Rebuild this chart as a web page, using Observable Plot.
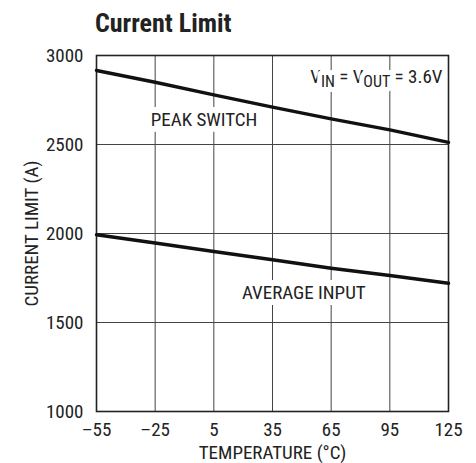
<!DOCTYPE html>
<html>
<head>
<meta charset="utf-8">
<script src="https://cdn.jsdelivr.net/npm/d3@7"></script>
<script src="https://cdn.jsdelivr.net/npm/@observablehq/plot@0.6"></script>
<style>
  html, body { margin: 0; padding: 0; background: #fff; }
  #wrap { position: relative; width: 476px; height: 463px; font-family: "Liberation Sans Narrow", "Roboto Condensed", "DejaVu Sans Condensed", sans-serif; }
  #title { position: absolute; left: 95px; top: 10px; font-size: 26px; font-weight: bold; line-height: 1; color: #222; }
  #chart { position: absolute; left: 0; top: 45px; }
</style>
</head>
<body>
<div id="wrap">
  <div id="title">Current Limit</div>
  <div id="chart"></div>
</div>
<script>
const temperatures = [-55, -25, 5, 35, 65, 95, 125];
const peakSwitch   = [2916, 2850, 2779, 2710, 2644, 2582, 2512];
const averageInput = [1993, 1947, 1899, 1852, 1805, 1764, 1720];
const xTicks = [-55, -25, 5, 35, 65, 95, 125];
const yTicks = [1000, 1500, 2000, 2500, 3000];

const peakData = temperatures.map((t, i) => ({t, v: peakSwitch[i]}));
const avgData = temperatures.map((t, i) => ({t, v: averageInput[i]}));

const font = `"Liberation Sans Narrow", "Roboto Condensed", "DejaVu Sans Condensed", sans-serif`;
const fmtX = d => d < 0 ? "\u2013" + Math.abs(d) : String(d);
const fmtY = d => String(d);

const chart = Plot.plot({
  width: 476,
  height: 418,
  marginTop: 10,
  marginBottom: 52,
  marginLeft: 96,
  marginRight: 28,
  style: {fontFamily: font, fontSize: "19px", color: "#222", background: "#fff"},
  x: {domain: [-55, 125]},
  y: {domain: [1000, 3000]},
  marks: [
    Plot.gridX(xTicks, {stroke: "#444", strokeOpacity: 1, strokeWidth: 1}),
    Plot.gridY(yTicks, {stroke: "#444", strokeOpacity: 1, strokeWidth: 1}),
    Plot.axisX(xTicks, {tickSize: 0, tickPadding: 11, tickFormat: fmtX, label: "TEMPERATURE (°C)", labelAnchor: "center", labelArrow: "none", labelOffset: 47}),
    Plot.axisY(yTicks, {tickSize: 0, tickPadding: 13, tickFormat: fmtY, label: "CURRENT LIMIT (A)", labelAnchor: "center", labelArrow: "none", labelOffset: 72}),
    Plot.text(["PEAK SWITCH"], {x: 0, y: 2638, text: d => d, fontSize: 19, fill: "#222", stroke: "white", strokeWidth: 12}),
    Plot.text(["AVERAGE INPUT"], {x: 51, y: 1669, text: d => d, fontSize: 19, fill: "#222", stroke: "white", strokeWidth: 12}),
    Plot.text(["VIN = VOUT = 3.6V"], {x: 125, y: 2882, text: d => d, textAnchor: "end", dx: -6, fontSize: 19, fill: "#222", stroke: "white", strokeWidth: 10}),
    Plot.frame({stroke: "#222", strokeWidth: 1.6}),
    Plot.line(peakData, {x: "t", y: "v", stroke: "#111", strokeWidth: 3.5}),
    Plot.line(avgData, {x: "t", y: "v", stroke: "#111", strokeWidth: 3.5})
  ]
});

document.getElementById("chart").appendChild(chart);

// subscripts for V_IN and V_OUT
d3.select(chart).selectAll("text").each(function() {
  if (this.textContent !== "VIN = VOUT = 3.6V") return;
  const t = d3.select(this);
  t.text(null);
  t.append("tspan").text("V");
  t.append("tspan").attr("dy", 4).attr("font-size", 16).text("IN");
  t.append("tspan").attr("dy", -4).text(" = V");
  t.append("tspan").attr("dy", 4).attr("font-size", 16).text("OUT");
  t.append("tspan").attr("dy", -4).text(" = 3.6V");
});
</script>
</body>
</html>
